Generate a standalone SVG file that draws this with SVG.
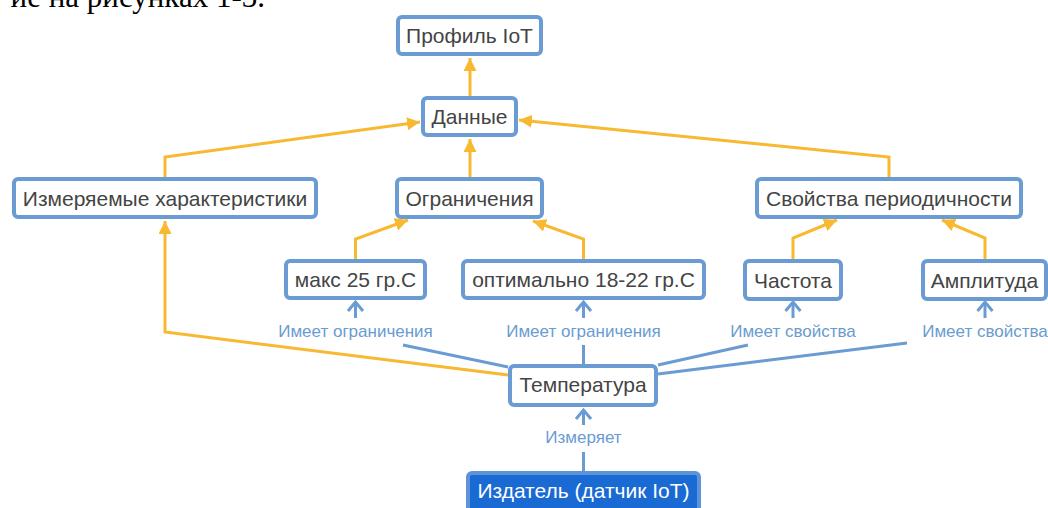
<svg xmlns="http://www.w3.org/2000/svg" width="1048" height="508" viewBox="0 0 1048 508">
<style>
.box{fill:#fff;stroke:#6a9bd2;stroke-width:4}
.pub{fill:#1a6ad4;stroke:#5d93d8;stroke-width:4}
.t{font-family:"Liberation Sans",Arial,sans-serif;font-size:21px;fill:#444;text-anchor:middle}
.tw{font-family:"Liberation Sans",Arial,sans-serif;font-size:21px;fill:#fff;text-anchor:middle}
.lbl{font-family:"Liberation Sans",Arial,sans-serif;font-size:17px;fill:#6a9bd2;text-anchor:middle}
.or{fill:none;stroke:#f8b830;stroke-width:3;stroke-linejoin:miter}
.bl{fill:none;stroke:#6a9bd2;stroke-width:3}
.doc{font-family:"Liberation Serif","Times New Roman",serif;font-size:31px;fill:#000}
</style>
<defs>
<marker id="ah" markerUnits="userSpaceOnUse" markerWidth="14" markerHeight="14" refX="13" refY="6.5" orient="auto">
<path d="M0,0 L13,6.5 L0,13 z" fill="#f8b830"/>
</marker>
<marker id="ch" markerUnits="userSpaceOnUse" markerWidth="14" markerHeight="20" refX="10" refY="8" orient="auto" overflow="visible">
<path d="M1,0.5 L10,8 L1,15.5" fill="none" stroke="#6a9bd2" stroke-width="3"/>
</marker>
</defs>
<rect width="1048" height="508" fill="#fff"/>
<text class="doc" x="265" y="7" text-anchor="end">ие на рисунках 1-3.</text>
<g id="connectors">
<path class="or" d="M470,96 L470,58" marker-end="url(#ah)"/>
<path class="or" d="M470,177 L470,139" marker-end="url(#ah)"/>
<path class="or" d="M165,177 L165,157 L420,122" marker-end="url(#ah)"/>
<path class="or" d="M889,177 L889,157 L519,120" marker-end="url(#ah)"/>
<path class="or" d="M355.5,259 L355.5,239 L408,220" marker-end="url(#ah)"/>
<path class="or" d="M583.5,259 L583.5,239 L533,221" marker-end="url(#ah)"/>
<path class="or" d="M793,259 L793,238 L837,220" marker-end="url(#ah)"/>
<path class="or" d="M985,259 L985,238 L942,220" marker-end="url(#ah)"/>
<path class="or" d="M508,375 L165,332 L165,221" marker-end="url(#ah)"/>
<path class="bl" d="M508,367 L403,345"/>
<path class="bl" d="M355.5,318 L355.5,302" marker-end="url(#ch)"/>
<text class="lbl" x="355.5" y="337">Имеет ограничения</text>
<path class="bl" d="M583.5,364 L583.5,345"/>
<path class="bl" d="M583.5,318 L583.5,302" marker-end="url(#ch)"/>
<text class="lbl" x="583.5" y="337">Имеет ограничения</text>
<path class="bl" d="M658,365 L748,345"/>
<path class="bl" d="M793,318 L793,302" marker-end="url(#ch)"/>
<text class="lbl" x="793" y="337">Имеет свойства</text>
<path class="bl" d="M658,374 L907,343"/>
<path class="bl" d="M985,318 L985,302" marker-end="url(#ch)"/>
<text class="lbl" x="985" y="337">Имеет свойства</text>
<path class="bl" d="M583.5,471 L583.5,452"/>
<path class="bl" d="M583.5,425 L583.5,410" marker-end="url(#ch)"/>
<text class="lbl" x="583.5" y="443">Измеряет</text>
</g>
<g id="n-profile"><rect class="box" x="398" y="17" width="143" height="37" rx="4"/><text class="t" x="469.5" y="43">Профиль IoT</text></g>
<g id="n-data"><rect class="box" x="423" y="98" width="93" height="37" rx="4"/><text class="t" x="469.5" y="124">Данные</text></g>
<g id="n-meas"><rect class="box" x="14" y="179" width="302" height="38" rx="4"/><text class="t" x="165" y="205.5">Измеряемые характеристики</text></g>
<g id="n-limits"><rect class="box" x="397" y="179" width="145" height="38" rx="4"/><text class="t" x="469.5" y="205.5">Ограничения</text></g>
<g id="n-period"><rect class="box" x="757" y="179" width="264" height="38" rx="4"/><text class="t" x="889" y="205.5">Свойства периодичности</text></g>
<g id="n-max"><rect class="box" x="286" y="261" width="139" height="37" rx="4"/><text class="t" x="355.5" y="287">макс 25 гр.С</text></g>
<g id="n-opt"><rect class="box" x="463" y="261" width="241" height="37" rx="4"/><text class="t" x="583.5" y="287">оптимально 18-22 гр.С</text></g>
<g id="n-freq"><rect class="box" x="745" y="261" width="96" height="38" rx="4"/><text class="t" x="793" y="287.5">Частота</text></g>
<g id="n-ampl"><rect class="box" x="923" y="261" width="123" height="38" rx="4"/><text class="t" x="984.5" y="287.5">Амплитуда</text></g>
<g id="n-temp"><rect class="box" x="510" y="366" width="146" height="39" rx="4"/><text class="t" x="583" y="392">Температура</text></g>
<g id="n-pub"><rect class="pub" x="468" y="473" width="231" height="42" rx="4"/><text class="tw" x="583.5" y="498">Издатель (датчик IoT)</text></g>
</svg>
